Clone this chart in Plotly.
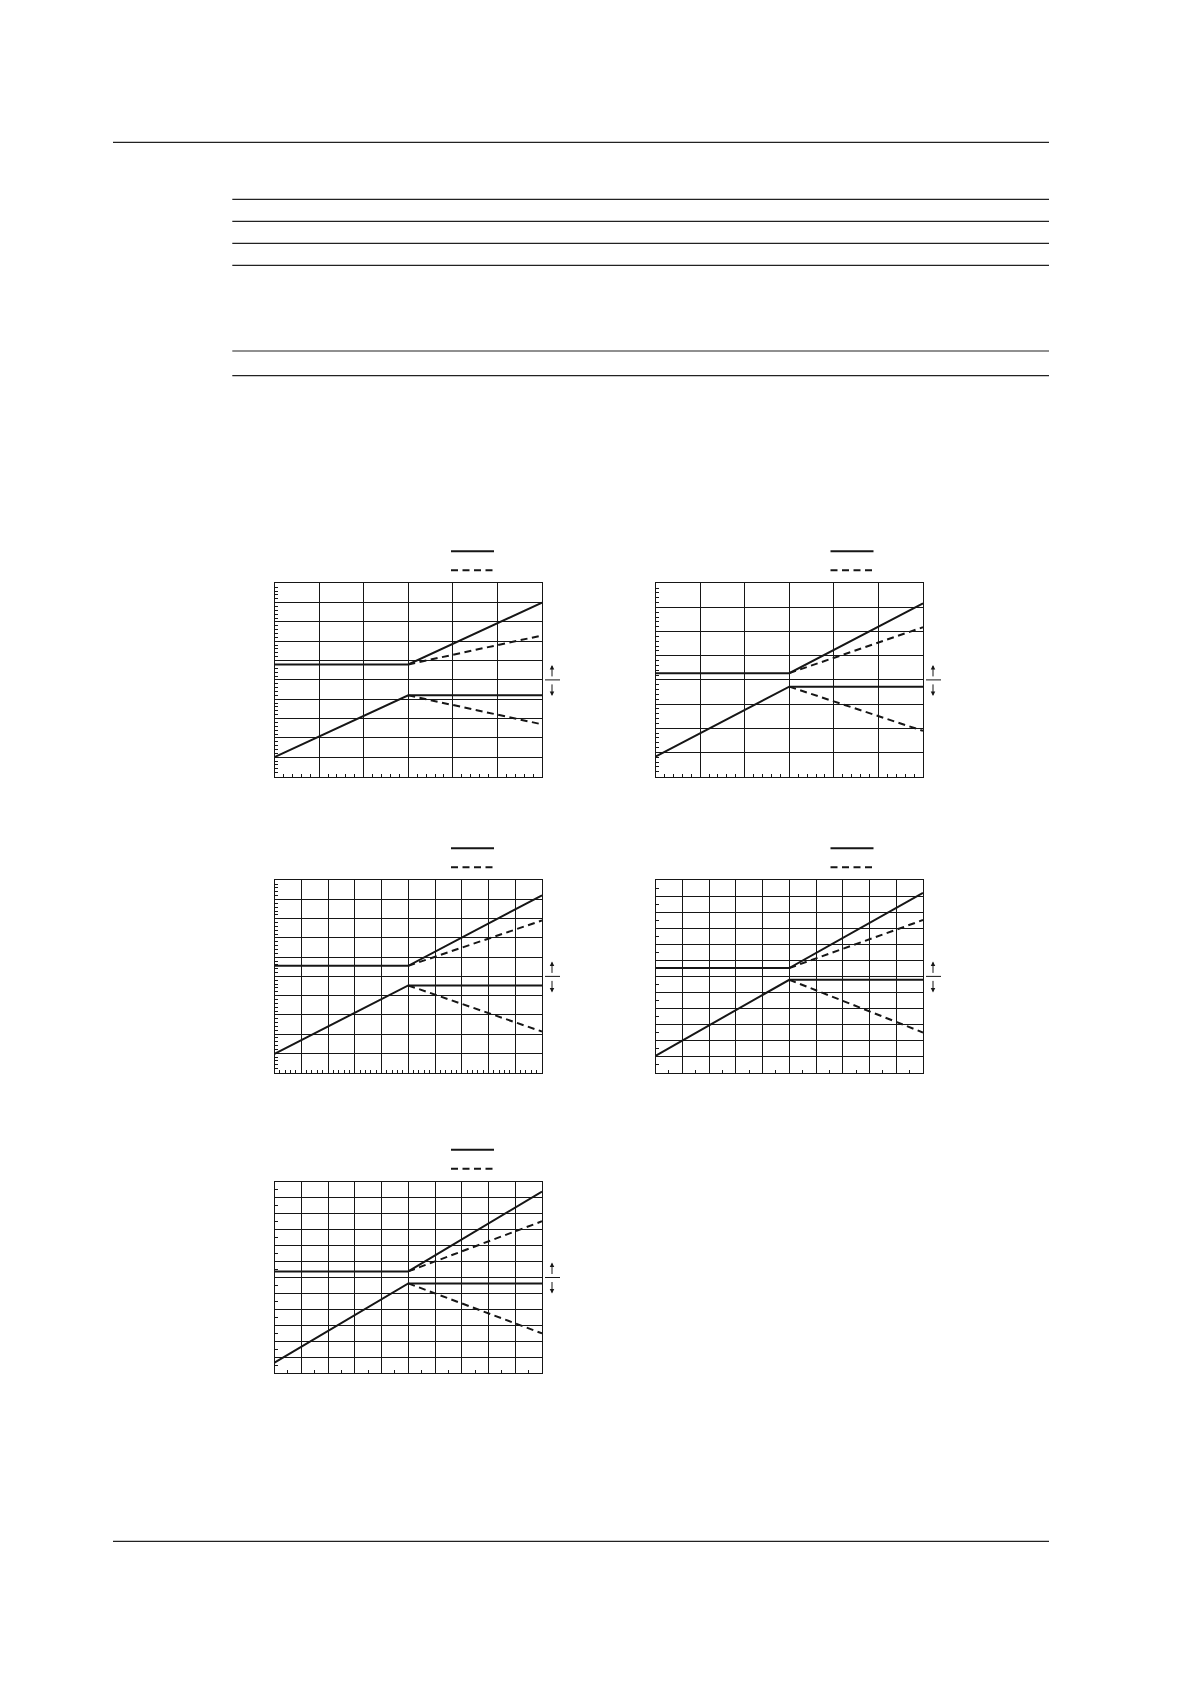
import plotly.graph_objects as go

# ---- chart data (one entry per panel) ----
grid_cols = [6, 6, 10, 10, 10]
grid_rows = [10, 8, 10, 12, 12]
knee_x = [3, 3, 5, 5, 5]

upper_flat = [5.8, 4.28, 5.55, 6.52, 6.38]
upper_solid_end = [9.0, 7.17, 9.22, 11.21, 11.38]
upper_dash_end = [7.3, 6.18, 7.91, 9.52, 9.52]
lower_start = [1.0, 0.82, 0.97, 1.04, 0.67]
lower_flat = [4.2, 3.72, 4.53, 5.79, 5.63]
lower_dash_end = [2.7, 1.89, 2.13, 2.5, 2.5]

minor_x = [0.2, 0.2, 0.2, 0.5, 0.5]
minor_y = [0.2, 0.2, 0.2, 0.5, 0.5]

# ---- page geometry (pixels on a 1191 x 1684 page) ----
W, H = 1191, 1684
col_x = [(274.5, 542), (655.5, 923)]
row_y = [(583.3, 776.5), (880.3, 1072.5), (1181.7, 1373.3)]
panel_pos = [(0, 0), (1, 0), (0, 1), (1, 1), (0, 2)]
legend_x = [446, 825.5]

INK = "#161616"


def px_x(v):
    return v / W


def px_y(v):
    return 1 - v / H


fig = go.Figure()

for i in range(5):
    n = "" if i == 0 else str(i + 1)
    c, r = panel_pos[i]
    k = knee_x[i]
    end = grid_cols[i]
    lg = "legend" if i == 0 else "legend" + str(i + 1)

    fig.add_trace(go.Scatter(
        x=[0, k, end, None, 0, k, end],
        y=[upper_flat[i], upper_flat[i], upper_solid_end[i], None,
           lower_start[i], lower_flat[i], lower_flat[i]],
        mode="lines", name="", legend=lg,
        line=dict(color=INK, width=2),
        xaxis="x" + n, yaxis="y" + n)
    )
    fig.add_trace(go.Scatter(
        x=[k, end, None, k, end],
        y=[upper_flat[i], upper_dash_end[i], None,
           lower_flat[i], lower_dash_end[i]],
        mode="lines", name="", legend=lg,
        line=dict(color=INK, width=2, dash="7px,4.5px"),
        xaxis="x" + n, yaxis="y" + n)
    )

    axis_common = dict(
        showline=True, mirror=True, linecolor=INK, linewidth=1,
        showgrid=True, gridcolor=INK, gridwidth=1, dtick=1,
        zeroline=False, showticklabels=False, ticks="",
        fixedrange=True,
    )
    fig.update_layout({
        "xaxis" + n: dict(
            axis_common, range=[0, end],
            domain=[px_x(col_x[c][0]), px_x(col_x[c][1])],
            anchor="y" + n,
            minor=dict(ticks="inside", ticklen=3, tickwidth=1,
                       tickcolor=INK, dtick=minor_x[i], showgrid=False),
        ),
        "yaxis" + n: dict(
            axis_common, range=[0, grid_rows[i]],
            domain=[px_y(row_y[r][1]), px_y(row_y[r][0])],
            anchor="x" + n,
            minor=dict(ticks="inside", ticklen=3, tickwidth=1,
                       tickcolor=INK, dtick=minor_y[i], showgrid=False),
        ),
        lg: dict(
            x=px_x(legend_x[c]), y=px_y(row_y[r][0] - 46.5),
            xanchor="left", yanchor="top",
            bgcolor="rgba(0,0,0,0)", borderwidth=0,
            itemwidth=43, font=dict(size=10, color=INK),
            tracegroupgap=0,
        ),
    })

    # the small up/down arrow marker beside each panel
    xr = "x" + n + " domain"
    yr = "y" + n + " domain"
    fig.add_shape(type="line", xref=xr, yref=yr, xsizemode="pixel",
                  xanchor=1, x0=3, x1=18, y0=0.5, y1=0.5,
                  line=dict(color=INK, width=1))
    for shift, tail in [(15, 13), (-16, -13)]:
        fig.add_annotation(xref=xr, yref=yr, x=1, y=0.5, xshift=10,
                           yshift=shift, ax=0, ay=tail, text="",
                           showarrow=True, arrowhead=2, arrowsize=0.9,
                           arrowwidth=1, arrowcolor=INK, standoff=0)

# ---- page rules ----
rules = [(113, 1049, 142.3), (232.3, 1049, 199.3), (232.3, 1049, 221.3),
         (232.3, 1049, 243.3), (232.3, 1049, 265.3), (232.3, 1049, 351),
         (232.3, 1049, 375.7), (113, 1049, 1541.3)]
for x0, x1, yy in rules:
    fig.add_shape(type="line", xref="paper", yref="paper",
                  x0=px_x(x0), x1=px_x(x1), y0=px_y(yy), y1=px_y(yy),
                  line=dict(color="#222222", width=1.2))

fig.update_layout(
    width=W, height=H,
    margin=dict(l=0, r=0, t=0, b=0),
    paper_bgcolor="white", plot_bgcolor="white",
    showlegend=True,
)

# drop the browser's default 8px body margin so the page sits at 0,0
fig.write_html("out.html", config={"displayModeBar": False},
               post_script="document.body.style.margin='0';")
